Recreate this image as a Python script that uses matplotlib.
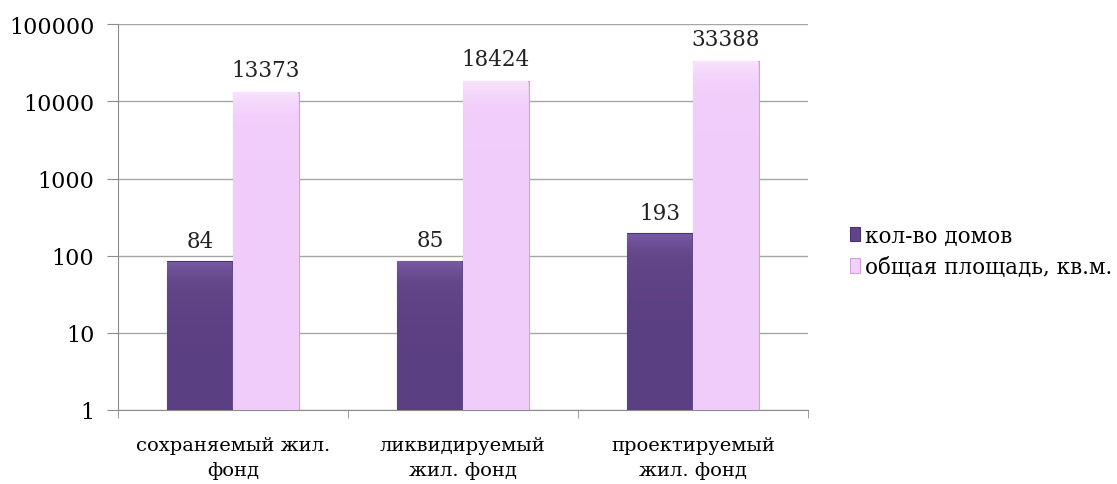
import numpy as np
import matplotlib.pyplot as plt
from matplotlib.colors import LinearSegmentedColormap
from matplotlib.ticker import FixedLocator, NullLocator

plt.rcParams['font.family'] = ['DejaVu Serif']

categories = ['сохраняемый жил.\nфонд', 'ликвидируемый\nжил. фонд', 'проектируемый\nжил. фонд']
houses = [84, 85, 193]
area = [13373, 18424, 33388]
series_names = ['кол-во домов', 'общая площадь, кв.м.']
dark = '#604487'
light = '#f2d0fb'

fig = plt.figure(figsize=(11.17, 4.85), dpi=100)
ax = fig.add_axes([0.1056, 0.1526, 0.6178, 0.7954])

x = np.arange(len(categories))
w = 0.285
b1 = ax.bar(x - w / 2, houses, w, bottom=1, color=dark, edgecolor='#4a3370', linewidth=0.8,
            label=series_names[0], zorder=3)
b2 = ax.bar(x + w / 2, area, w, bottom=1, color=light, edgecolor='#c9a6d4', linewidth=0.8,
            label=series_names[1], zorder=3)

# soft vertical shading on the bars
dark_cmap = LinearSegmentedColormap.from_list('d', ['#5b3f83', '#634789', '#7a5aa7'])
light_cmap = LinearSegmentedColormap.from_list('l', ['#f0ccfa', '#f2d0fb', '#f8e4fd'])
grad = np.linspace(0, 1, 64).reshape(-1, 1)
for bars, cmap in ((b1, dark_cmap), (b2, light_cmap)):
    for p in bars:
        x0, y0 = p.get_x(), p.get_y()
        im = ax.imshow(grad, extent=[x0, x0 + p.get_width(), y0, y0 + p.get_height()],
                       origin='lower', aspect='auto', cmap=cmap, zorder=3.5)
        im.set_clip_path(p)

for xi, v in zip(x - w / 2, houses):
    ax.annotate(str(v), (xi, v), xytext=(0, 7), textcoords='offset points',
                ha='center', va='bottom', fontsize=15.5, color='#222222')
for xi, v in zip(x + w / 2, area):
    ax.annotate(str(v), (xi, v), xytext=(0, 8), textcoords='offset points',
                ha='center', va='bottom', fontsize=15.5, color='#222222')

ax.set_yscale('log')
ax.set_ylim(1, 100000)
ax.set_xlim(-0.5, 2.5)
ax.yaxis.set_minor_locator(NullLocator())
ax.set_yticks([1, 10, 100, 1000, 10000, 100000])
ax.set_yticklabels(['1', '10', '100', '1000', '10000', '100000'], fontsize=16)
ax.grid(axis='y', color='#a6a6a6', linewidth=1, zorder=0)

ax.set_xticks(x)
ax.set_xticklabels(categories, fontsize=14, linespacing=1.45)
ax.tick_params(axis='x', length=0, pad=19)
ax.xaxis.set_minor_locator(FixedLocator([-0.5, 0.5, 1.5, 2.5]))
ax.tick_params(axis='x', which='minor', length=6, color='#8c8c8c')
ax.tick_params(axis='y', length=8, color='#8c8c8c', pad=9)

for s in ['top', 'right']:
    ax.spines[s].set_visible(False)
for s in ['left', 'bottom']:
    ax.spines[s].set_color('#8c8c8c')

fig.legend(handles=[b1, b2], labels=series_names, loc='upper left',
           bbox_to_anchor=(0.753, 0.553), frameon=False, fontsize=15.5,
           handlelength=0.5, handleheight=0.65, handletextpad=0.2, labelspacing=0.45,
           borderaxespad=0)

fig.savefig('out.png', dpi=100)
